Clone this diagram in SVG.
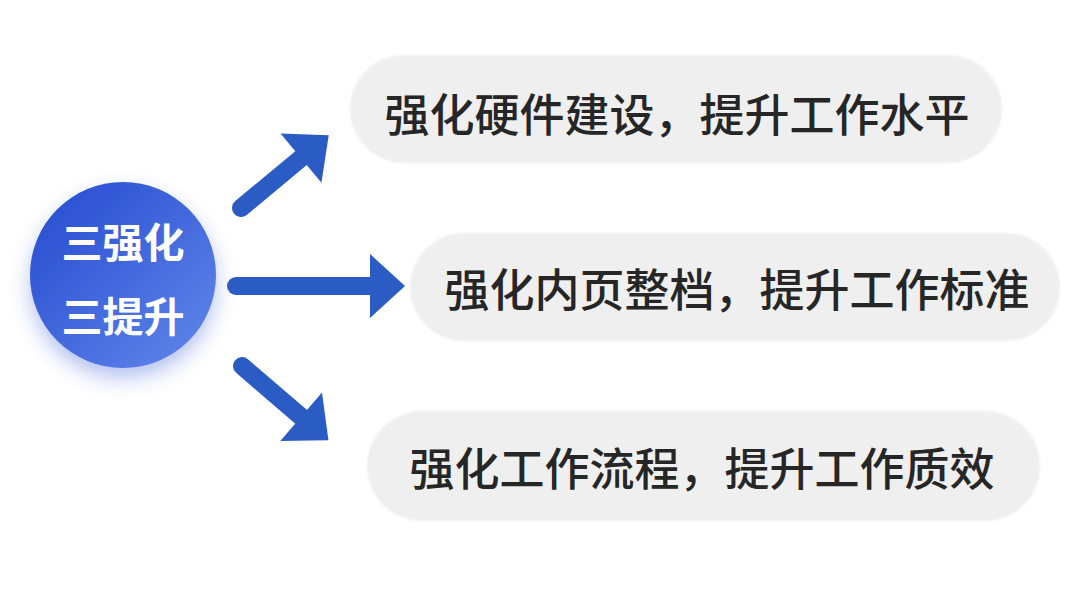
<svg xmlns="http://www.w3.org/2000/svg" width="1080" height="597" viewBox="0 0 1080 597">
<defs>
<linearGradient id="cg" x1="0" y1="0" x2="1" y2="1">
<stop offset="0" stop-color="#2449cf"/>
<stop offset="1" stop-color="#6288ea"/>
</linearGradient>
<filter id="sh" x="-40%" y="-40%" width="180%" height="190%">
<feDropShadow dx="0" dy="10" stdDeviation="10" flood-color="#2c4fd0" flood-opacity="0.35"/>
</filter>
<filter id="soft" x="-5%" y="-10%" width="110%" height="120%">
<feGaussianBlur stdDeviation="1.2"/>
</filter>
<g id="arrow">
<line x1="0" y1="0" x2="80" y2="0" stroke="#2a5cc4" stroke-width="18" stroke-linecap="round"/>
<polygon points="78,-32 114,0 78,32" fill="#2a5cc4"/>
</g>
</defs>
<style>
.pill{fill:#efefef;}
.lbl{font-family:"Noto Sans CJK SC","Noto Sans",sans-serif;font-size:45px;font-weight:500;fill:#262626;text-anchor:middle;dominant-baseline:central;}
.ctr{font-family:"Noto Sans CJK SC","Noto Sans",sans-serif;font-size:41px;font-weight:700;fill:#ffffff;text-anchor:middle;dominant-baseline:central;}
</style>
<rect width="1080" height="597" fill="#ffffff"/>
<g id="center">
<circle cx="123" cy="275" r="93" fill="url(#cg)" filter="url(#sh)"/>
<text class="ctr" x="123" y="240">三强化</text>
<text class="ctr" x="123" y="314">三提升</text>
</g>
<g id="connectors">
<use href="#arrow" transform="translate(241,208) rotate(-39.7)"/>
<g>
<line x1="236" y1="286" x2="372" y2="286" stroke="#2a5cc4" stroke-width="18" stroke-linecap="round"/>
<polygon points="370,254 405,286 370,318" fill="#2a5cc4"/>
</g>
<use href="#arrow" transform="translate(242,366) rotate(40.7)"/>
</g>
<g id="n1">
<rect class="pill" x="350" y="55" width="652" height="108" rx="54" filter="url(#soft)"/>
<text class="lbl" x="677" y="112">强化硬件建设，提升工作水平</text>
</g>
<g id="n2">
<rect class="pill" x="410" y="233" width="650" height="108" rx="54" filter="url(#soft)"/>
<text class="lbl" x="737" y="287">强化内页整档，提升工作标准</text>
</g>
<g id="n3">
<rect class="pill" x="367" y="411" width="673" height="110" rx="55" filter="url(#soft)"/>
<text class="lbl" x="702" y="466">强化工作流程，提升工作质效</text>
</g>
</svg>
